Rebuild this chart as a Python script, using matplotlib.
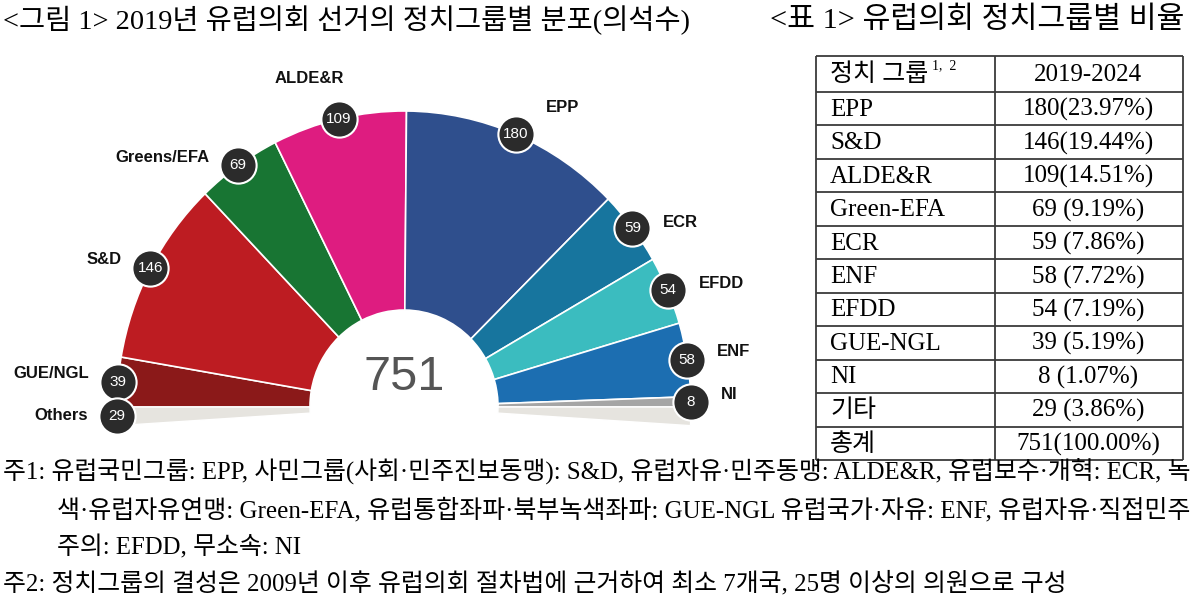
import matplotlib
matplotlib.use('Agg')
import numpy as np
import matplotlib.pyplot as plt
from matplotlib.patches import Wedge

# hemicycle, left to right
groups = ['GUE/NGL', 'S&D', 'Greens/EFA', 'ALDE&R', 'EPP', 'ECR', 'EFDD', 'ENF', 'NI']
seats = [39, 146, 69, 109, 180, 59, 54, 58, 8]
colors = ['#8b1919', '#bd1c22', '#187533', '#de1c80', '#2f4f8d',
          '#17759e', '#3bbcbf', '#1c6eb1', '#a5a5a5']
others_label = 'Others'
others_seats = 29
others_color = '#e6e4df'

# table
tbl_groups = ['EPP', 'S&D', 'ALDE&R', 'Green-EFA', 'ECR', 'ENF', 'EFDD', 'GUE-NGL', 'NI', '기타', '총계']
tbl_seats = [180, 146, 109, 69, 59, 58, 54, 39, 8, 29, 751]

title_left = '<그림 1> 2019년 유럽의회 선거의 정치그룹별 분포(의석수)'
title_right = '<표 1> 유럽의회 정치그룹별 비율'
notes = [
    '주1: 유럽국민그룹: EPP, 사민그룹(사회·민주진보동맹): S&D, 유럽자유·민주동맹: ALDE&R, 유럽보수·개혁: ECR, 녹',
    '색·유럽자유연맹: Green-EFA, 유럽통합좌파·북부녹색좌파: GUE-NGL 유럽국가·자유: ENF, 유럽자유·직접민주',
    '주의: EFDD, 무소속: NI',
    '주2: 정치그룹의 결성은 2009년 이후 유럽의회 절차법에 근거하여 최소 7개국, 25명 이상의 의원으로 구성',
]

kr = ['Liberation Serif', 'Noto Sans CJK KR']
sans = ['Liberation Sans', 'DejaVu Sans']

W, H = 1200, 598
fig = plt.figure(figsize=(W / 100, H / 100), dpi=100)
bg = fig.add_axes([0, 0, 1, 1])
bg.set_xlim(0, W)
bg.set_ylim(H, 0)
bg.axis('off')
renderer = fig.canvas.get_renderer()


def fit(t, width):
    w = t.get_window_extent(renderer).width
    t.set_fontsize(t.get_fontsize() * width / w)
    return t.get_fontsize()


# titles
t = bg.text(3, 20, title_left, family=kr, fontsize=18, va='center', color='black')
fit(t, 687)
t = bg.text(770, 20, title_right, family=kr, fontsize=18, va='center', color='black')
fit(t, 415)

# ---- hemicycle ----
cx, cy, rx, ry = 404, 407, 287, 296
ax = fig.add_axes([0, (H - 440) / H, 800 / W, 400 / H])
ax.set_xlim((0 - cx) / rx, (800 - cx) / rx)
ax.set_ylim((cy - 440) / ry, (cy - 40) / ry)
ax.axis('off')

inner = 94 / rx
deg = 180 / sum(seats)
edges = 180 - np.cumsum([0] + seats) * deg
half = others_seats / 2 * deg

for i in range(len(seats)):
    ax.add_patch(Wedge((0, 0), 1, edges[i + 1], edges[i], width=1 - inner,
                       fc=colors[i], ec='white', lw=1.2))
ax.add_patch(Wedge((0, 0), 1, 180, 180 + half, width=1 - inner, fc=others_color, ec='white', lw=1))
ax.add_patch(Wedge((0, 0), 1, -half, 0, width=1 - inner, fc=others_color, ec='white', lw=1))

mids = list((edges[:-1] + edges[1:]) / 2) + [180 + half / 2]
names = groups + [others_label]
vals = seats + [others_seats]
xs = np.cos(np.radians(mids))
ys = np.sin(np.radians(mids))
ax.scatter(xs, ys, s=680, c='#2b2b2b', edgecolors='white', linewidths=1.5, zorder=5)

# label offset from its dot, in pixels (dx, dy down), and alignment
lab_pos = {'GUE/NGL': (-29, -8, 'right'), 'S&D': (-29, -9, 'right'),
           'Greens/EFA': (-29, -8, 'right'), 'ALDE&R': (-30, -40, 'center'),
           'EPP': (30, -27, 'left'), 'ECR': (30, -5, 'left'), 'EFDD': (31, -7, 'left'),
           'ENF': (30, -8, 'left'), 'NI': (30, -7, 'left'), 'Others': (-29, -1, 'right')}

for x, y, n, v in zip(xs, ys, names, vals):
    ax.text(x, y, str(v), color='white', fontsize=11, family=sans,
            ha='center', va='center', zorder=6)
    dx, dy, ha = lab_pos[n]
    ax.annotate(n, (x, y), xytext=(dx * 0.72, -dy * 0.72), textcoords='offset points',
                ha=ha, va='center', fontsize=12, fontweight='bold', family=sans, color='#111111')

ax.text(0, (cy - 377) / ry, str(sum(vals)), ha='center', va='center',
        fontsize=35, family=sans, color='#555555')

# ---- table ----
x0, xm, x1 = 816, 995, 1183
top, head_h, row_h = 56, 36, 33.45
lines_y = [top] + [top + head_h + i * row_h for i in range(len(tbl_groups) + 1)]
bg.hlines(lines_y, x0, x1, color='#3a3a3a', lw=1.3)
bg.vlines([x0, xm, x1], top, lines_y[-1], color='#3a3a3a', lw=1.3)

tb_fs = 18
h = bg.text(830, top + head_h / 2 + 1, '정치 그룹', family=kr, fontsize=tb_fs, va='center')
hb = h.get_window_extent(renderer)
bg.text(hb.x1 + 4, 66, '1,  2', family=kr, fontsize=10, va='center')
bg.text(1088, top + head_h / 2 + 1, '2019-2024', family=kr, fontsize=tb_fs, va='center', ha='center')

total = tbl_seats[-1]
for i, (g, s) in enumerate(zip(tbl_groups, tbl_seats)):
    yc = top + head_h + (i + 0.5) * row_h + 1
    p = s / total * 100
    val = f'{s}({p:.2f}%)' if s >= 100 else f'{s} ({p:.2f}%)'
    bg.text(830, yc, g, family=kr, fontsize=tb_fs, va='center')
    bg.text(1088, yc, val, family=kr, fontsize=tb_fs, va='center', ha='center')

# ---- notes ----
n1 = bg.text(3, 471, notes[0], family=kr, fontsize=16, va='center')
fs1 = fit(n1, 1192)
n2 = bg.text(57, 510, notes[1], family=kr, fontsize=16, va='center')
fs2 = fit(n2, 1138)
bg.text(57, 547, notes[2], family=kr, fontsize=min(fs1, fs2), va='center')
bg.text(3, 583, notes[3], family=kr, fontsize=min(fs1, fs2), va='center')

fig.savefig('out.png', dpi=100)
